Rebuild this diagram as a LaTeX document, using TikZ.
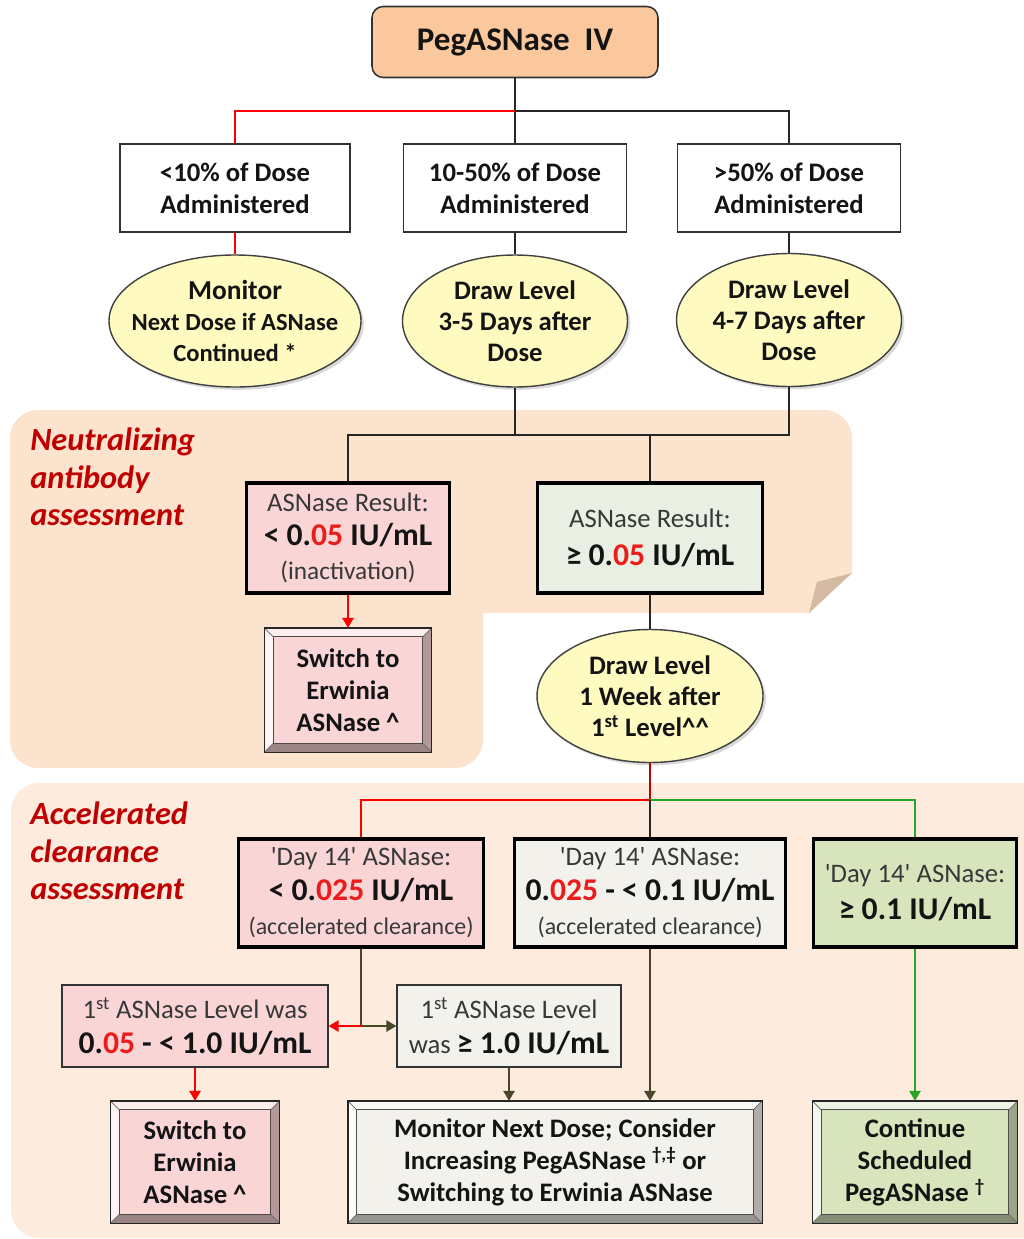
\documentclass[tikz,border=0pt]{standalone}
\usepackage{fontspec}
\setmainfont{Carlito}
\usetikzlibrary{shapes.geometric,arrows.meta,shadows}
\definecolor{titleorange}{RGB}{250,200,156}
\definecolor{peachA}{RGB}{252,227,206}
\definecolor{peachB}{RGB}{253,235,221}
\definecolor{foldtan}{RGB}{212,186,162}
\definecolor{ellyellow}{RGB}{255,250,192}
\definecolor{pinkbox}{RGB}{249,213,213}
\definecolor{sagebox}{RGB}{233,239,226}
\definecolor{greybox}{RGB}{243,241,236}
\definecolor{greenbox}{RGB}{216,228,188}
\definecolor{darkred}{RGB}{192,0,0}
\definecolor{olive}{RGB}{72,72,40}
\definecolor{linegreen}{RGB}{40,165,40}
\definecolor{numred}{RGB}{235,28,28}

\begin{document}
\begin{tikzpicture}[x=0.025cm, y=-0.025cm,
    every node/.style={align=center, inner sep=0pt, text=black!92},
    sz/.style 2 args={minimum width=#1*0.025cm, minimum height=#2*0.025cm},
    txt/.style={font=\fontsize{19}{22.8}\selectfont\bfseries},
    dose/.style={txt, draw=black!80, line width=1.1pt, fill=white},
    bubble/.style={ellipse, draw=black!75, line width=1pt, fill=ellyellow,
      drop shadow={shadow xshift=2pt, shadow yshift=-2pt, opacity=.3}},
    result/.style={draw=black, line width=2.4pt, font=\fontsize{19}{24.5}\selectfont},
    level/.style={draw=black!80, line width=1pt, font=\fontsize{19}{25}\selectfont},
    bev/.style={draw=black!80, line width=1pt, txt},
    section/.style={anchor=west, align=left, text=darkred,
      font=\fontsize{23}{26.5}\selectfont\bfseries\itshape},
    conn/.style={line width=1.1pt, black!85},
    redline/.style={line width=1.1pt, red},
    tip/.style={-{Triangle[length=7pt,width=8pt]}},
  ]
  \useasboundingbox (0,0) rectangle (1024,1239);
  \def\reg{\mdseries\color{black!78}}
  \def\num#1{\textcolor{numred}{#1}}
  \def\q{\textquotesingle}
  \def\bevel#1#2{%
    \fill[#2!40!white] (#1.north west) -- (#1.north east) -- ([shift={(-9,9)}]#1.north east)
      -- ([shift={(9,9)}]#1.north west) -- cycle;
    \fill[#2!25!white] (#1.north west) -- ([shift={(9,9)}]#1.north west)
      -- ([shift={(9,-9)}]#1.south west) -- (#1.south west) -- cycle;
    \fill[#2!62!black] (#1.south west) -- ([shift={(9,-9)}]#1.south west)
      -- ([shift={(-9,-9)}]#1.south east) -- (#1.south east) -- cycle;
    \fill[#2!72!black] (#1.north east) -- ([shift={(-9,9)}]#1.north east)
      -- ([shift={(-9,-9)}]#1.south east) -- (#1.south east) -- cycle;
    \draw[black!60, line width=.5pt] (#1.north west) -- ([shift={(9,9)}]#1.north west)
      (#1.north east) -- ([shift={(-9,9)}]#1.north east)
      (#1.south west) -- ([shift={(9,-9)}]#1.south west)
      (#1.south east) -- ([shift={(-9,-9)}]#1.south east);
    \draw[black!70, line width=.6pt] ([shift={(9,9)}]#1.north west) rectangle ([shift={(-9,-9)}]#1.south east);
    \draw[black!85, line width=1pt] (#1.north west) rectangle (#1.south east);}

  % shaded areas
  \fill[peachA] (10,600) [rounded corners=20] -- (10,410) -- (852,410) [sharp corners]
    -- (852,573) -- (809,613) -- (483,613) [rounded corners=20] -- (483,768) -- (10,768) -- cycle;
  \fill[foldtan] (852,573) -- (817,582) -- (809,613) -- cycle;
  \fill[peachB, rounded corners=20] (11,783) rectangle (1050,1238);

  \node[section] (nab) at (30,477) {Neutralizing\\antibody\\assessment};
  \node[section] (acc) at (30,851) {Accelerated\\clearance\\assessment};

  % top part
  \node[txt, font=\fontsize{23.5}{26}\selectfont\bfseries, draw=black!80, line width=1.1pt,
    fill=titleorange, rounded corners=8, sz={286}{71}] (peg) at (515,42) {PegASNase\ \ IV};
  \node[dose, sz={230}{88}] (b1) at (235,188) {<10\% of Dose\\Administered};
  \node[dose, sz={223}{88}] (b2) at (515,188) {10-50\% of Dose\\Administered};
  \node[dose, sz={223}{88}] (b3) at (789,188) {>50\% of Dose\\Administered};

  \node[bubble, sz={252}{132}] (e1) at (235,321) {};
  \node[bubble, sz={225}{132}] (e2) at (515,321) {};
  \node[bubble, sz={225}{133}] (e3) at (789,320) {};
  \node[txt, font=\fontsize{19.5}{22}\selectfont\bfseries] (e1t) at (e1)
    {Monitor\\{\fontsize{17.5}{22}\selectfont Next Dose if ASNase}\\{\fontsize{17.5}{22}\selectfont Continued *}};
  \node[txt, font=\fontsize{19}{22}\selectfont\bfseries] (e2t) at (e2) {Draw Level\\3-5 Days after\\Dose};
  \node[txt, font=\fontsize{19}{22}\selectfont\bfseries] (e3t) at (e3) {Draw Level\\4-7 Days after\\Dose};

  % neutralizing antibody assessment
  \node[result, fill=pinkbox, sz={203}{110}] (r1) at (348,538)
    {{\reg ASNase Result:}\\{\bfseries\fontsize{22.5}{24}\selectfont < 0.\num{05} IU/mL}\\{\reg\fontsize{18}{22}\selectfont (inactivation)}};
  \node[result, fill=sagebox, sz={225}{110}] (r2) at (650,538)
    {{\reg ASNase Result:}\\[2pt]{\bfseries\fontsize{22.5}{24}\selectfont ≥ 0.\num{05} IU/mL}};
  \node[bev, fill=pinkbox, sz={166}{123}] (s1) at (348,690) {Switch to\\Erwinia\\ASNase \^{}};
  \bevel{s1}{pinkbox}
  \node[bubble, sz={226}{133}] (e4) at (650,696) {};
  \node[txt, font=\fontsize{19}{22}\selectfont\bfseries] (e4t) at (e4) {Draw Level\\1 Week after\\1\textsuperscript{st} Level\^{}\^{}};

  % accelerated clearance assessment
  \node[result, fill=pinkbox, sz={245}{108}] (k1) at (361,893)
    {{\reg \q Day 14\q\ ASNase:}\\{\bfseries\fontsize{22.5}{24}\selectfont < 0.\num{025} IU/mL}\\{\reg\fontsize{17}{21}\selectfont (accelerated clearance)}};
  \node[result, fill=greybox, sz={271}{108}] (k2) at (650,893)
    {{\reg \q Day 14\q\ ASNase:}\\{\bfseries\fontsize{22.5}{24}\selectfont 0.\num{025} - < 0.1 IU/mL}\\{\reg\fontsize{17}{21}\selectfont (accelerated clearance)}};
  \node[result, fill=greenbox, sz={203}{108}] (k3) at (915,893)
    {{\reg \q Day 14\q\ ASNase:}\\[2pt]{\bfseries\fontsize{22.5}{24}\selectfont ≥ 0.1 IU/mL}};

  \node[level, fill=pinkbox, sz={266}{82}] (c1) at (195,1026)
    {{\reg 1\textsuperscript{st} ASNase Level was}\\{\bfseries\fontsize{22.5}{24}\selectfont 0.\num{05} - < 1.0 IU/mL}};
  \node[level, fill=greybox, sz={224}{82}] (c2) at (509,1026)
    {{\reg 1\textsuperscript{st} ASNase Level}\\{\reg was} {\bfseries\fontsize{22.5}{24}\selectfont ≥ 1.0 IU/mL}};

  \node[bev, fill=pinkbox, sz={168}{121}] (f1) at (195,1162) {Switch to\\Erwinia\\ASNase \^{}};
  \bevel{f1}{pinkbox}
  \node[bev, fill=greybox, sz={413}{121}] (f2) at (555,1162)
    {Monitor Next Dose; Consider\\Increasing PegASNase \textsuperscript{†,‡} or\\Switching to Erwinia ASNase};
  \bevel{f2}{greybox}
  \node[bev, fill=greenbox, sz={204}{121}] (f3) at (915,1162) {Continue\\Scheduled\\PegASNase \textsuperscript{†}};
  \bevel{f3}{greenbox}

  % connectors
  \coordinate (j1) at (515,111);
  \coordinate (j2) at (650,435);
  \coordinate (j3) at (650,800);
  \coordinate (j4) at (361,1026);
  \draw[conn] (peg.south) -- (j1) -| (b3.north);
  \draw[conn] (j1) -- (b2.north);
  \draw[redline] (j1) -| (b1.north);
  \draw[redline] (b1.south) -- (e1.north);
  \draw[conn] (b2.south) -- (e2.north);
  \draw[conn] (b3.south) -- (e3.north);
  \draw[conn] (e2.south) |- (j2);
  \draw[conn] (e3.south) |- (j2);
  \draw[conn] (j2) -| (r1.north);
  \draw[conn] (j2) -- (r2.north);
  \draw[redline, tip] (r1.south) -- (s1.north);
  \draw[conn] (r2.south) -- (e4.north);
  \draw[line width=1.1pt, red!75!black] (e4.south) -- (j3);
  \draw[redline] (j3) -| (k1.north);
  \draw[line width=1.1pt, linegreen] (j3) -| (k3.north);
  \draw[conn] (j3) -- (k2.north);
  \draw[line width=1.1pt, olive] (k1.south) -- (j4);
  \draw[redline, tip] (j4) -- (c1.east);
  \draw[line width=1.1pt, olive, tip] (j4) -- (c2.west);
  \draw[redline, tip] (c1.south) -- (f1.north);
  \draw[line width=1.1pt, olive, tip] (c2.south) -- (c2.south |- f2.north);
  \draw[line width=1.1pt, olive, tip] (k2.south) -- (k2.south |- f2.north);
  \draw[line width=1.1pt, linegreen, tip] (k3.south) -- (f3.north);
\end{tikzpicture}
\end{document}
